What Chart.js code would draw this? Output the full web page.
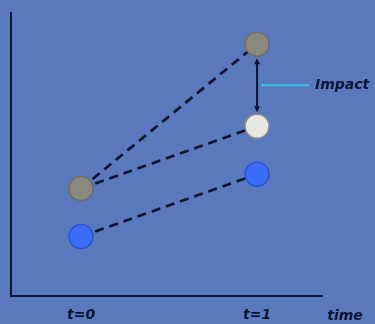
<!DOCTYPE html>
<html lang="en">
<head>
    <meta charset="UTF-8">
    <title>Impact</title>
    <script src="https://cdn.jsdelivr.net/npm/chart.js"></script>
    <style>
        body { margin: 0; background: #5a79bd; }
        #wrap { width: 375px; height: 324px; }
    </style>
</head>
<body>
    <div id="wrap"><canvas id="impactChart"></canvas></div>

    <script>
        // x positions: t=0 and t=1
        const times = [0, 1];
        const tickLabels = ["t=0", "t=1"];
        const axisLabel = "time";
        // y values (0..10 scale)
        const withTreatment = [3.8, 8.9];   // gray -> gray
        const counterfactual = [3.8, 6.0];  // gray -> white
        const control = [2.1, 4.3];         // blue -> blue
        const impactLabel = "Impact";

        const navy = "#0c1430";
        const font = { family: "'DejaVu Sans', sans-serif", size: 14, weight: "bold", style: "italic" };

        function pts(ys) {
            return times.map((t, i) => ({ x: t, y: ys[i] }));
        }

        const lineStyle = {
            showLine: true,
            borderColor: navy,
            borderWidth: 2.7,
            borderDash: [9, 6],
            pointRadius: 12,
            pointBorderWidth: 1.5
        };

        // arrow + cyan leader + "Impact" text
        const impactPlugin = {
            id: "impact",
            afterDatasetsDraw(chart) {
                const { ctx, scales: { x, y } } = chart;
                const px = x.getPixelForValue(times[1]);
                const top = y.getPixelForValue(withTreatment[1]) + 14;
                const bot = y.getPixelForValue(counterfactual[1]) - 14;
                ctx.save();
                ctx.strokeStyle = navy;
                ctx.fillStyle = navy;
                ctx.lineWidth = 2;
                ctx.beginPath();
                ctx.moveTo(px, top + 4);
                ctx.lineTo(px, bot - 4);
                ctx.stroke();
                ctx.beginPath();
                ctx.moveTo(px, top); ctx.lineTo(px - 3, top + 6); ctx.lineTo(px + 3, top + 6);
                ctx.closePath(); ctx.fill();
                ctx.beginPath();
                ctx.moveTo(px, bot); ctx.lineTo(px - 3, bot - 6); ctx.lineTo(px + 3, bot - 6);
                ctx.closePath(); ctx.fill();

                const mid = y.getPixelForValue((withTreatment[1] + counterfactual[1]) / 2);
                ctx.strokeStyle = "#36c3ea";
                ctx.lineWidth = 2;
                ctx.beginPath();
                ctx.moveTo(px + 4, mid);
                ctx.lineTo(px + 52, mid);
                ctx.stroke();

                ctx.font = "italic bold 14px 'DejaVu Sans', sans-serif";
                ctx.textBaseline = "middle";
                ctx.fillText(impactLabel, px + 58, mid);

                // axis title at the far right of the tick row
                ctx.textAlign = "center";
                ctx.fillText(axisLabel, x.getPixelForValue(1.5), x.top + 20);
                ctx.restore();
            }
        };

        new Chart(document.getElementById("impactChart"), {
            type: "scatter",
            data: {
                datasets: [
                    Object.assign({ data: pts(withTreatment), pointBackgroundColor: ["#8b887e", "#8b887e"], pointBorderColor: "#6f6d68" }, lineStyle),
                    Object.assign({ data: pts(counterfactual), pointBackgroundColor: ["#8b887e", "#e8e7e1"], pointBorderColor: ["#6f6d68", "#8c8c8c"] }, lineStyle),
                    Object.assign({ data: pts(control), pointBackgroundColor: "#3b6cf6", pointBorderColor: "#2a52d4" }, lineStyle)
                ]
            },
            options: {
                responsive: true,
                maintainAspectRatio: false,
                animation: false,
                layout: { autoPadding: false, padding: { left: 11, top: 13, right: 53, bottom: 0 } },
                plugins: { legend: { display: false }, tooltip: { enabled: false } },
                scales: {
                    x: {
                        type: "linear",
                        min: -0.398,
                        max: 1.369,
                        afterBuildTicks: (scale) => { scale.ticks = times.map(v => ({ value: v })); },
                        afterFit: (scale) => { scale.height = 28; },
                        ticks: {
                            color: navy,
                            font: font,
                            padding: 11,
                            autoSkip: false,
                            maxRotation: 0,
                            callback: (v) => tickLabels[times.indexOf(v)]
                        },
                        grid: { display: false, drawTicks: false },
                        border: { display: true, color: navy, width: 2 }
                    },
                    y: {
                        min: 0,
                        max: 10,
                        afterFit: (scale) => { scale.width = 0; },
                        ticks: { display: false },
                        grid: { display: false, drawTicks: false },
                        border: { display: true, color: navy, width: 2 }
                    }
                }
            },
            plugins: [impactPlugin]
        });
    </script>
</body>
</html>
